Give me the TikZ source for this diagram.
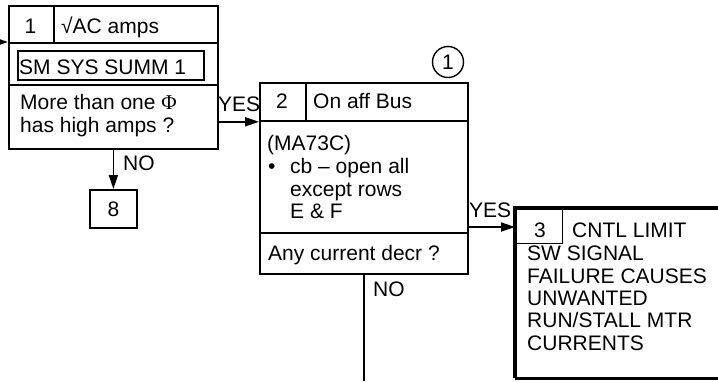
\documentclass[tikz,border=0pt]{standalone}
\usepackage{fontspec}
\setmainfont{Liberation Sans}
\newfontfamily\phifont{Liberation Serif}
\usetikzlibrary{arrows.meta}
\tikzset{
  boxline/.style={draw, line width=1.8pt, inner sep=0pt},
  frame/.style={boxline, rectangle, anchor=north west},
  txt/.style={inner sep=0pt, anchor=base west, font=\fontsize{21}{24}\selectfont},
  ctxt/.style={inner sep=0pt, anchor=base, font=\fontsize{21}{24}\selectfont},
  conn/.style={line width=1.8pt, -{Triangle[length=14pt,width=9pt]}},
  thin/.style={line width=1.8pt}
}
\begin{document}
\begin{tikzpicture}[x=1pt,y=-1pt]
\useasboundingbox (0,0) rectangle (718,381);
% ---- box 1
\node[frame, minimum width=209pt, minimum height=143pt] (b1) at (8,5) {};
\node[frame, minimum width=45pt, minimum height=37pt] (b1n) at (8,5) {};
\node[frame, minimum width=209pt, minimum height=37pt] (b1h) at (8,5) {};
\node[frame, minimum width=186pt, minimum height=29pt] (b1s) at (17,50) {};
\coordinate (s1l) at (8,85);
\draw[thin] (s1l) -- (s1l -| b1.east);
\node[ctxt] (t1n) at (30.5,33) {1};
\node[txt] (t1h) at (61,33) {√AC amps};
\node[txt] (t1s) at (19,74) {SM SYS SUMM 1};
\node[txt] (t1q1) at (20,109) {More than one {\phifont Φ}};
\node[txt] (t1q2) at (20,132) {has high amps ?};
% ---- box 8
\node[frame, minimum width=47pt, minimum height=38pt] (b8) at (89,189) {};
\node[inner sep=0pt, font=\fontsize{21}{24}\selectfont] (t8) at (b8.center) {8};
% ---- box 2
\node[frame, minimum width=208pt, minimum height=191pt] (b2) at (259,82) {};
\node[frame, minimum width=46pt, minimum height=38pt] (b2n) at (259,82) {};
\node[frame, minimum width=208pt, minimum height=38pt] (b2h) at (259,82) {};
\coordinate (s2l) at (259,233);
\draw[thin] (s2l) -- (s2l -| b2.east);
\node[ctxt] (t2n) at (282,108) {2};
\node[txt] (t2h) at (313,108) {On aff Bus};
\node[txt] (t2a) at (267,150) {(MA73C)};
\node[txt] (t2b) at (268,173) {•};
\node[txt] (t2c) at (290,173) {cb – open all};
\node[txt] (t2d) at (290,196) {except rows};
\node[txt] (t2e) at (290,218.5) {E \& F};
\node[txt] (t2q) at (268,260) {Any current decr ?};
\node[circle, draw, line width=1.4pt, minimum size=31pt, inner sep=0pt, font=\fontsize{21}{24}\selectfont] (c1) at (448,62) {1};
% ---- box 3 (open to the right, beyond the picture edge)
\node[rectangle, anchor=north west, minimum width=225pt, minimum height=170pt, inner sep=0pt] (b3) at (515,208) {};
\draw[line width=3.8pt] (b3.north east) -- (b3.north west) -- (b3.south west);
\draw[line width=2.8pt] (b3.south west) -- (b3.south east);
\node[draw, line width=1.4pt, rectangle, anchor=north west, minimum width=47pt, minimum height=35pt, inner sep=0pt] (b3h) at (515,208) {};
\node[ctxt] (t3n) at (540,237) {3};
\node[txt] (t3h) at (572,237) {CNTL LIMIT};
\node[txt] (t3a) at (527,260) {SW SIGNAL};
\node[txt] (t3b) at (527,283) {FAILURE CAUSES};
\node[txt] (t3c) at (527,305) {UNWANTED};
\node[txt] (t3d) at (527,327.5) {RUN/STALL MTR};
\node[txt] (t3e) at (527,350) {CURRENTS};
% ---- connectors
\coordinate (in1) at (-10,42);
\draw[line width=1.6pt, -{Triangle[length=8pt,width=5pt]}] (in1) -- (in1 -| b1.west);
\draw[conn] (b1.east |- b2h.south west) -- (b2h.south west);
\node[txt] (yes1) at (218,111) {YES};
\draw[conn] (b8.north |- b1.south) -- (b8.north);
\node[txt] (no1) at (123,170) {NO};
\coordinate (y2) at (b3.west |- 0,227);
\draw[conn] (y2 -| b2.east) -- (y2);
\node[txt] (yes2) at (469,217) {YES};
\coordinate (bend) at (363,381);
\draw[thin] (b2.south) -- (b2.south |- bend);
\node[txt] (no2) at (373,296) {NO};
\end{tikzpicture}
\end{document}
